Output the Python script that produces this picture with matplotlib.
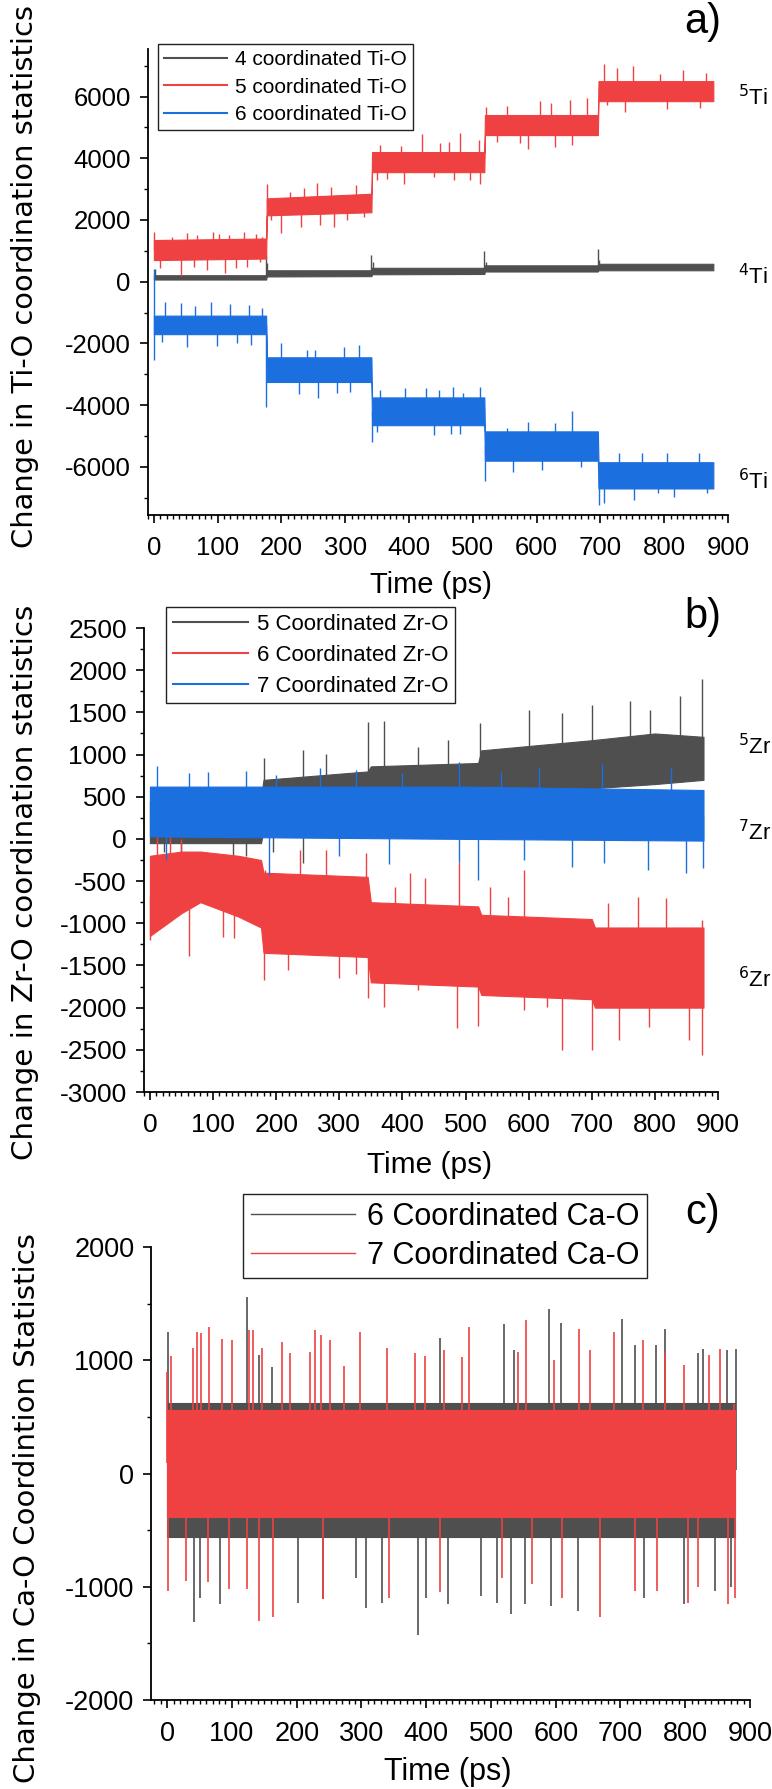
import numpy as np
import matplotlib
matplotlib.use('Agg')
import matplotlib.pyplot as plt
from matplotlib.ticker import MultipleLocator
from matplotlib.lines import Line2D

plt.rcParams['font.family'] = ['Liberation Sans', 'DejaVu Sans']
plt.rcParams['axes.unicode_minus'] = False

GREY = '#4f4f4f'
RED = '#ef4141'
BLUE = '#1b6fdf'

# ---- a) Ti-O : dense core band (knots) + spikes ----
t_a = [0, 176, 177, 341, 342, 518, 519, 696, 697, 877]
ti4_hi = [210, 210, 370, 370, 450, 450, 530, 530, 580, 580]
ti4_lo = [70, 70, 170, 180, 240, 250, 330, 330, 370, 370]
ti4_spk_t = [1, 176, 178, 341, 343, 518, 520, 696, 698]
ti4_spk_v = [420, 880, 600, 880, 650, 1000, 650, 1060, 700]

ti5_hi = [1350, 1400, 2700, 2850, 4200, 4200, 5400, 5400, 6500, 6500]
ti5_lo = [700, 750, 2150, 2250, 3550, 3550, 4750, 4750, 5850, 5850]
ti5_spk_t = [0.5, 29, 52, 68, 92, 102, 118, 141, 160, 170, 10, 42, 63, 84, 112, 128, 146, 167,
             177, 214, 235, 256, 277, 317, 183, 199, 230, 261, 282, 303, 329,
             355, 387, 421, 449, 462, 480, 509, 350, 366, 392, 439, 470, 496, 512,
             520, 553, 606, 622, 653, 679, 538, 574, 587, 629, 655,
             705, 726, 751, 794, 830, 866, 710, 739, 804, 856]
ti5_spk_v = [1620, 1460, 1590, 1510, 1620, 1560, 1510, 1620, 1560, 1460, 434, 185, 490, 380, 270, 430, 490, 650,
             3170, 2920, 3030, 3210, 3080, 3130, 2000, 1570, 1780, 1830, 1780, 2000, 2100,
             4440, 4390, 4800, 4500, 4540, 4810, 4600, 3290, 3340, 3160, 3400, 3300, 3300, 3170,
             5670, 5690, 5840, 5780, 5890, 5940, 4540, 4490, 4290, 4360, 4430,
             7060, 6920, 6990, 6730, 6860, 6750, 5730, 5510, 5590, 5620]

ti6_hi = [-1100, -1100, -2450, -2450, -3750, -3750, -4850, -4850, -5850, -5850]
ti6_lo = [-1700, -1700, -3250, -3250, -4650, -4650, -5800, -5800, -6700, -6700]
ti6_spk_t = [0.3, 18, 42, 65, 89, 120, 149, 170, 0.8, 13, 52, 99, 131, 152,
             199, 240, 253, 298, 321, 176, 227, 257, 287, 308,
             355, 394, 426, 447, 469, 485, 512, 342, 350, 439, 465, 480,
             553, 587, 629, 655, 519, 563, 608, 669,
             729, 765, 804, 854, 697, 705, 752, 791, 815, 867]
ti6_spk_v = [400, -647, -700, -800, -647, -720, -755, -860, -2540, -1940, -2130, -2100, -2000, -2050,
             -2000, -2210, -2210, -2110, -2050, -4050, -3640, -3780, -3600, -3570,
             -3510, -3460, -3460, -3510, -3400, -3620, -3420, -5180, -4860, -4970, -4920, -4920,
             -4750, -4540, -4590, -4190, -6450, -6160, -6100, -5990,
             -5560, -5560, -5540, -5560, -7220, -7180, -7080, -6860, -6970, -6860]

# ---- b) Zr-O ----
t_b5 = [0, 176, 180, 345, 350, 520, 525, 700, 800, 877]
zr5_hi = [450, 500, 700, 800, 860, 900, 1050, 1170, 1250, 1210]
zr5_lo = [-50, -50, 100, 200, 300, 400, 500, 600, 650, 700]
zr5_spk_t = [181, 345, 371, 523, 601, 701, 760, 874, 792, 840, 472, 424, 279, 243, 653,
             195, 153, 50, 22, 242, 132]
zr5_spk_v = [956, 1390, 1400, 1370, 1530, 1590, 1630, 1890, 1530, 1690, 1174, 1090, 1010, 1050, 1490,
             -150, -200, -300, -150, -290, -200]

t_b7 = [0, 500, 877]
zr7_hi = [620, 620, 580]
zr7_lo = [30, 0, -20]
zr7_spk_t = [11, 62, 92, 152, 200, 270, 327, 400, 490, 556, 617, 716, 825,
             26, 189, 300, 379, 489, 520, 592, 668, 720, 789, 849, 876]
zr7_spk_v = [860, 780, 790, 810, 760, 840, 820, 780, 916, 798, 838, 889, 838,
             -250, -428, -200, -297, -270, -486, -250, -330, -280, -370, -409, -350]

t_b6 = [0, 50, 80, 140, 176, 180, 345, 350, 520, 525, 700, 705, 877]
zr6_hi = [-200, -150, -150, -200, -250, -400, -450, -750, -800, -900, -950, -1050, -1050]
zr6_lo = [-1150, -880, -750, -920, -1050, -1350, -1400, -1700, -1750, -1850, -1900, -2000, -2000]
zr6_spk_t = [12, 32, 50, 183, 237, 279, 342, 388, 412, 436, 490, 538, 568, 592, 725, 773, 818, 875,
             0, 62, 116, 134, 181, 219, 300, 327, 345, 371, 424, 486, 520, 592, 629, 653, 701, 743, 791,
             854, 874]
zr6_spk_v = [50, 55, 0, -370, -130, -130, -170, -565, -407, -466, -270, -565, -683, -367, -762, -683, -703, -960,
             -1200, -1385, -1160, -1180, -1670, -1550, -1650, -1600, -1889, -1987, -1789, -2243, -2220, -2030,
             -1987, -2500, -2500, -2383, -2225, -2383, -2560]

# ---- c) Ca-O ----
t_c = [0, 877]
ca6_hi = [620, 620]
ca6_lo = [-560, -560]
ca6_spk_t = [2, 123, 142, 162, 421, 520, 535, 590, 608, 702, 723, 755, 768, 819, 828, 864, 878,
             41, 50, 81, 202, 241, 291, 307, 331, 387, 400, 433, 484, 509, 531, 552, 593, 635,
             737, 798, 846, 870]
ca6_spk_v = [1250, 1560, 1045, 940, 1195, 1320, 1090, 1450, 1330, 1360, 1135, 1135, 1280, 1065, 1100, 1090, 1095,
             -1315, -1095, -1155, -1140, -1110, -920, -1185, -1140, -1425, -1095, -1155, -1080, -1140, -1240,
             -1155, -1170, -1215, -1095, -1155, -1035, -1005]

ca7_hi = [560, 560]
ca7_lo = [-380, -380]
ca7_spk_t = [0, 6, 40, 46, 52, 65, 84, 100, 127, 133, 146, 177, 190, 220, 229, 238, 251, 273, 297, 339,
             382, 398, 428, 455, 466, 541, 554, 597, 636, 653, 690, 735, 768, 798, 837, 854, 876,
             2, 29, 63, 95, 123, 142, 163, 241, 343, 421, 517, 564, 609, 668, 722, 756, 804, 819,
             866, 877]
ca7_spk_v = [900, 1040, 1110, 1250, 1240, 1290, 1190, 1180, 1270, 1270, 1110, 1160, 1060, 1075, 1266, 1220,
             1180, 946, 1250, 1110, 1060, 1040, 1090, 1025, 1290, 1075, 1355, 1005, 1280, 1090, 1250, 1180,
             1060, 955, 1045, 1095, 615,
             -1035, -950, -960, -1020, -1020, -1300, -1270, -1110, -1095, -1050, -920, -975, -1095, -1270,
             -1035, -1035, -1140, -1005, -1155, -1095]


def draw(ax, t, lo, hi, st, sv, color, z, lw=1.0):
    ax.fill_between(t, lo, hi, color=color, lw=0.8, zorder=z)
    mid = (np.array(lo) + np.array(hi)) / 2
    base = np.interp(st, t, mid)
    ax.vlines(st, base, sv, color=color, lw=lw, zorder=z)


def style(ax, xlim, ylim, ymaj, ymin, lsize):
    ax.set_xlim(*xlim)
    ax.set_ylim(*ylim)
    for s in ['top', 'right']:
        ax.spines[s].set_visible(False)
    for s in ['left', 'bottom']:
        ax.spines[s].set_linewidth(1.3)
    ax.xaxis.set_major_locator(MultipleLocator(100))
    ax.xaxis.set_minor_locator(MultipleLocator(10))
    ax.yaxis.set_major_locator(MultipleLocator(ymaj))
    ax.yaxis.set_minor_locator(MultipleLocator(ymin))
    ax.tick_params(which='major', direction='out', length=6, width=1.2, labelsize=lsize, pad=6)
    ax.tick_params(which='minor', direction='out', length=3, width=1.0)
    ax.tick_params(axis='x', which='major', pad=9)


fig = plt.figure(figsize=(7.72, 17.89), dpi=100)

# a)
ax1 = fig.add_axes([147.5 / 772, 1 - 515 / 1789, 580.5 / 772, 466 / 1789])
draw(ax1, t_a, ti4_lo, ti4_hi, ti4_spk_t, ti4_spk_v, GREY, 2)
draw(ax1, t_a, ti5_lo, ti5_hi, ti5_spk_t, ti5_spk_v, RED, 3)
draw(ax1, t_a, ti6_lo, ti6_hi, ti6_spk_t, ti6_spk_v, BLUE, 4)
style(ax1, (-10, 900), (-7560, 7540), 2000, 1000, 18.5)
ax1.set_yticks([-6000, -4000, -2000, 0, 2000, 4000, 6000])
h = [Line2D([], [], color=c, lw=1.5) for c in (GREY, RED, BLUE)]
fig.legend(h, ['4 coordinated Ti-O', '5 coordinated Ti-O', '6 coordinated Ti-O'],
           loc='upper left', bbox_to_anchor=(158 / 772, 1 - 44 / 1789), fontsize=15,
           fancybox=False, edgecolor='#222222', framealpha=1, borderaxespad=0,
           handlelength=3.0, handletextpad=0.4, labelspacing=0.4, borderpad=0.3)
fig.text(431 / 772, 1 - 585 / 1789, 'Time (ps)', fontsize=21, ha='center', va='center')
fig.text(25 / 772, 1 - 276 / 1789, 'Change in Ti-O coordination statistics', fontsize=20.8,
         rotation=90, ha='center', va='center', family='DejaVu Sans')
fig.text(703 / 772, 1 - 22 / 1789, 'a)', fontsize=30, ha='center', va='center')
fig.text(738 / 772, 1 - 98 / 1789, r'$^{5}$Ti', fontsize=16, ha='left', va='center')
fig.text(738 / 772, 1 - 277 / 1789, r'$^{4}$Ti', fontsize=16, ha='left', va='center')
fig.text(738 / 772, 1 - 482 / 1789, r'$^{6}$Ti', fontsize=16, ha='left', va='center')

# b)
ax2 = fig.add_axes([143.6 / 772, 1 - 1092 / 1789, 574.4 / 772, 464 / 1789])
draw(ax2, t_b5, zr5_lo, zr5_hi, zr5_spk_t, zr5_spk_v, GREY, 2)
draw(ax2, t_b6, zr6_lo, zr6_hi, zr6_spk_t, zr6_spk_v, RED, 3)
draw(ax2, t_b7, zr7_lo, zr7_hi, zr7_spk_t, zr7_spk_v, BLUE, 4)
style(ax2, (-10, 900), (-3000, 2500), 500, 250, 19)
h = [Line2D([], [], color=c, lw=1.5) for c in (GREY, RED, BLUE)]
fig.legend(h, ['5 Coordinated Zr-O', '6 Coordinated Zr-O', '7 Coordinated Zr-O'],
           loc='upper left', bbox_to_anchor=(166 / 772, 1 - 607 / 1789), fontsize=16,
           fancybox=False, edgecolor='#222222', framealpha=1, borderaxespad=0,
           handlelength=3.4, handletextpad=0.4, labelspacing=0.45, borderpad=0.3)
fig.text(430 / 772, 1 - 1165 / 1789, 'Time (ps)', fontsize=21.5, ha='center', va='center')
fig.text(25 / 772, 1 - 882 / 1789, 'Change in Zr-O coordination statistics', fontsize=21.2,
         rotation=90, ha='center', va='center', family='DejaVu Sans')
fig.text(703 / 772, 1 - 617 / 1789, 'b)', fontsize=30, ha='center', va='center')
fig.text(738 / 772, 1 - 747 / 1789, r'$^{5}$Zr', fontsize=16, ha='left', va='center')
fig.text(738 / 772, 1 - 833 / 1789, r'$^{7}$Zr', fontsize=16, ha='left', va='center')
fig.text(738 / 772, 1 - 980 / 1789, r'$^{6}$Zr', fontsize=16, ha='left', va='center')

# c)
ax3 = fig.add_axes([151 / 772, 1 - 1700 / 1789, 599 / 772, 453 / 1789])
draw(ax3, t_c, ca6_lo, ca6_hi, ca6_spk_t, ca6_spk_v, GREY, 2, lw=1.2)
draw(ax3, t_c, ca7_lo, ca7_hi, ca7_spk_t, ca7_spk_v, RED, 3, lw=1.2)
style(ax3, (-25, 900), (-2000, 2000), 1000, 500, 19.5)
h = [Line2D([], [], color=c, lw=1.0) for c in (GREY, RED)]
fig.legend(h, ['6 Coordinated Ca-O', '7 Coordinated Ca-O'],
           loc='upper left', bbox_to_anchor=(243 / 772, 1 - 1194 / 1789), fontsize=22,
           fancybox=False, edgecolor='#222222', framealpha=1, borderaxespad=0,
           handlelength=3.4, handletextpad=0.4, labelspacing=0.3, borderpad=0.25)
fig.text(448 / 772, 1 - 1772 / 1789, 'Time (ps)', fontsize=22, ha='center', va='center')
fig.text(27 / 772, 1 - 1508 / 1789, 'Change in Ca-O Coordintion Statistics', fontsize=21,
         rotation=90, ha='center', va='center', family='DejaVu Sans')
fig.text(703 / 772, 1 - 1213 / 1789, 'c)', fontsize=30, ha='center', va='center')

fig.savefig('out.png', dpi=100)
